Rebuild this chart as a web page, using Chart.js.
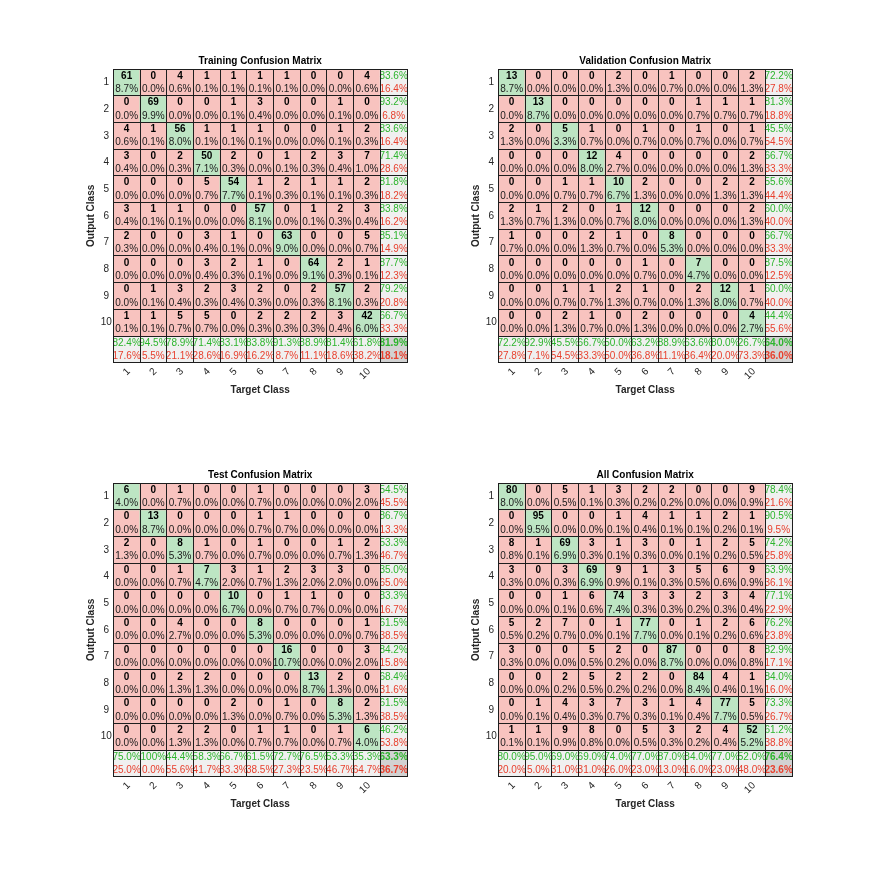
<!DOCTYPE html>
<html>
<head>
<meta charset="utf-8">
<script src="https://cdn.jsdelivr.net/npm/chart.js@4/dist/chart.umd.min.js"></script>
<style>
html,body{margin:0;padding:0;background:#fff;}
#wrap{position:relative;width:875px;height:875px;overflow:hidden;background:#fff;}
.pane{position:absolute;width:440px;height:440px;}
canvas{display:block;}
</style>
</head>
<body>
<div id="wrap">
  <div class="pane" style="left:0px;top:0px"><canvas id="c0" width="440" height="440"></canvas></div>
  <div class="pane" style="left:385px;top:0px"><canvas id="c1" width="440" height="440"></canvas></div>
  <div class="pane" style="left:0px;top:414px"><canvas id="c2" width="440" height="440"></canvas></div>
  <div class="pane" style="left:385px;top:414px"><canvas id="c3" width="440" height="440"></canvas></div>
</div>
<script>
// ---- data (rows = Output Class, columns = Target Class) ----
const classLabels = ['1','2','3','4','5','6','7','8','9','10'];

const trainingCounts = [
  [61, 0, 4, 1, 1, 1, 1, 0, 0, 4],
  [ 0,69, 0, 0, 1, 3, 0, 0, 1, 0],
  [ 4, 1,56, 1, 1, 1, 0, 0, 1, 2],
  [ 3, 0, 2,50, 2, 0, 1, 2, 3, 7],
  [ 0, 0, 0, 5,54, 1, 2, 1, 1, 2],
  [ 3, 1, 1, 0, 0,57, 0, 1, 2, 3],
  [ 2, 0, 0, 3, 1, 0,63, 0, 0, 5],
  [ 0, 0, 0, 3, 2, 1, 0,64, 2, 1],
  [ 0, 1, 3, 2, 3, 2, 0, 2,57, 2],
  [ 1, 1, 5, 5, 0, 2, 2, 2, 3,42]
];

const validationCounts = [
  [13, 0, 0, 0, 2, 0, 1, 0, 0, 2],
  [ 0,13, 0, 0, 0, 0, 0, 1, 1, 1],
  [ 2, 0, 5, 1, 0, 1, 0, 1, 0, 1],
  [ 0, 0, 0,12, 4, 0, 0, 0, 0, 2],
  [ 0, 0, 1, 1,10, 2, 0, 0, 2, 2],
  [ 2, 1, 2, 0, 1,12, 0, 0, 0, 2],
  [ 1, 0, 0, 2, 1, 0, 8, 0, 0, 0],
  [ 0, 0, 0, 0, 0, 1, 0, 7, 0, 0],
  [ 0, 0, 1, 1, 2, 1, 0, 2,12, 1],
  [ 0, 0, 2, 1, 0, 2, 0, 0, 0, 4]
];

const testCounts = [
  [ 6, 0, 1, 0, 0, 1, 0, 0, 0, 3],
  [ 0,13, 0, 0, 0, 1, 1, 0, 0, 0],
  [ 2, 0, 8, 1, 0, 1, 0, 0, 1, 2],
  [ 0, 0, 1, 7, 3, 1, 2, 3, 3, 0],
  [ 0, 0, 0, 0,10, 0, 1, 1, 0, 0],
  [ 0, 0, 4, 0, 0, 8, 0, 0, 0, 1],
  [ 0, 0, 0, 0, 0, 0,16, 0, 0, 3],
  [ 0, 0, 2, 2, 0, 0, 0,13, 2, 0],
  [ 0, 0, 0, 0, 2, 0, 1, 0, 8, 2],
  [ 0, 0, 2, 2, 0, 1, 1, 0, 1, 6]
];

const allCounts = [
  [80, 0, 5, 1, 3, 2, 2, 0, 0, 9],
  [ 0,95, 0, 0, 1, 4, 1, 1, 2, 1],
  [ 8, 1,69, 3, 1, 3, 0, 1, 2, 5],
  [ 3, 0, 3,69, 9, 1, 3, 5, 6, 9],
  [ 0, 0, 1, 6,74, 3, 3, 2, 3, 4],
  [ 5, 2, 7, 0, 1,77, 0, 1, 2, 6],
  [ 3, 0, 0, 5, 2, 0,87, 0, 0, 8],
  [ 0, 0, 2, 5, 2, 2, 0,84, 4, 1],
  [ 0, 1, 4, 3, 7, 3, 1, 4,77, 5],
  [ 1, 1, 9, 8, 0, 5, 3, 2, 4,52]
];

const panelTitles = ['Training Confusion Matrix','Validation Confusion Matrix','Test Confusion Matrix','All Confusion Matrix'];
const panelCounts = [trainingCounts, validationCounts, testCounts, allCounts];
const xAxisTitle = 'Target Class';
const yAxisTitle = 'Output Class';

// ---- styling ----
const FONT = '"Liberation Sans", Arial, Helvetica, sans-serif';
const C = {
  diag: '#bde5c3', off: '#f8c3bf', sum: '#f0f0f0', corner: '#d2d2d2',
  green: '#2db52d', red: '#e8402e', text: '#000000', pct: '#1a1a1a',
  axis: '#262626', grid: '#1e1e1e'
};
const CELL = 26.7;

function fmt(v){ return v === 100 ? '100%' : v.toFixed(1) + '%'; }

function textPlugin(M){
  const n = M.length;
  const total = M.reduce((a, r) => a + r.reduce((p, q) => p + q, 0), 0);
  const rowSum = M.map(r => r.reduce((p, q) => p + q, 0));
  const colSum = M[0].map((_, c) => M.reduce((a, r) => a + r[c], 0));
  const trace = M.reduce((a, r, i) => a + r[i], 0);
  return {
    id: 'cellText',
    afterDatasetsDraw(chart){
      const ctx = chart.ctx;
      ctx.save();
      ctx.textAlign = 'center';
      ctx.textBaseline = 'middle';
      for (let r = 0; r <= n; r++){
        const meta = chart.getDatasetMeta(r);
        for (let c = 0; c <= n; c++){
          const el = meta.data[c];
          const top = Math.min(el.y, el.base);
          const h = Math.abs(el.base - el.y);
          const x = el.x;
          const y1 = top + h * 0.26, y2 = top + h * 0.755;
          if (r < n && c < n){
            ctx.font = 'bold 10px ' + FONT;
            ctx.fillStyle = C.text;
            ctx.fillText(String(M[r][c]), x, y1);
            ctx.font = '10px ' + FONT;
            ctx.fillStyle = C.pct;
            ctx.fillText(fmt(M[r][c] * 100 / total), x, y2);
          } else {
            let acc;
            if (r < n) acc = M[r][r] * 100 / rowSum[r];
            else if (c < n) acc = M[c][c] * 100 / colSum[c];
            else acc = trace * 100 / total;
            const bold = (r === n && c === n) ? 'bold ' : '';
            ctx.font = bold + '10px ' + FONT;
            ctx.fillStyle = C.green;
            ctx.fillText(fmt(acc), x, y1);
            ctx.fillStyle = C.red;
            ctx.fillText(fmt(100 - acc), x, y2);
          }
        }
      }
      ctx.restore();
    }
  };
}

function build(canvasId, title, M){
  const n = M.length;
  const xLabels = classLabels.concat(['']);
  const datasets = [];
  for (let r = 0; r <= n; r++){
    const data = [], bg = [];
    for (let c = 0; c <= n; c++){
      data.push([r, r + 1]);
      bg.push((r === n && c === n) ? C.corner : (r === n || c === n) ? C.sum : (r === c ? C.diag : C.off));
    }
    datasets.push({data, backgroundColor: bg, borderWidth: 0, grouped: false,
                   barPercentage: 1, categoryPercentage: 1, inflateAmount: 0.5});
  }
  new Chart(document.getElementById(canvasId), {
    type: 'bar',
    data: {labels: xLabels, datasets},
    options: {
      responsive: false, animation: false, devicePixelRatio: 1,
      events: [],
      layout: {padding: {left: 0, top: 0, right: 33, bottom: 32.3}},
      plugins: {
        legend: {display: false},
        tooltip: {enabled: false},
        title: {display: true, text: title, fullSize: false, color: '#000',
                font: {family: FONT, size: 10, weight: 'bold', lineHeight: 1.2},
                padding: {top: 55.7, bottom: 1.3}}
      },
      scales: {
        x: {
          type: 'category', offset: true,
          grid: {display: true, offset: true, color: C.grid, lineWidth: 1, drawTicks: false, z: 1},
          border: {display: true, color: C.grid, width: 1, z: 1},
          ticks: {autoSkip: false, maxRotation: 45, minRotation: 45, padding: 3, labelOffset: 2,
                  color: C.axis, font: {family: FONT, size: 10}},
          title: {display: true, text: xAxisTitle, color: C.axis,
                  font: {family: FONT, size: 10, weight: 'bold', lineHeight: 1.2},
                  padding: {top: 0, bottom: 11.7}},
          afterFit: s => { s.height = 45; }
        },
        y: {
          type: 'linear', min: 0, max: n + 1, reverse: true,
          grid: {display: true, color: C.grid, lineWidth: 1, drawTicks: false, z: 1},
          border: {display: true, color: C.grid, width: 1, z: 1},
          ticks: {stepSize: 1, autoSkip: false, maxTicksLimit: 100, padding: 1.5,
                  crossAlign: 'center', labelOffset: CELL / 2,
                  color: C.axis, font: {family: FONT, size: 10},
                  callback: (v) => (v < n ? classLabels[v] : '')},
          title: {display: true, text: yAxisTitle, color: C.axis,
                  font: {family: FONT, size: 10, weight: 'bold', lineHeight: 1.2},
                  padding: {top: 85, bottom: 0}},
          afterFit: s => { s.width = 113.3; }
        }
      }
    },
    plugins: [textPlugin(M)]
  });
}

for (let i = 0; i < 4; i++) build('c' + i, panelTitles[i], panelCounts[i]);
</script>
</body>
</html>
